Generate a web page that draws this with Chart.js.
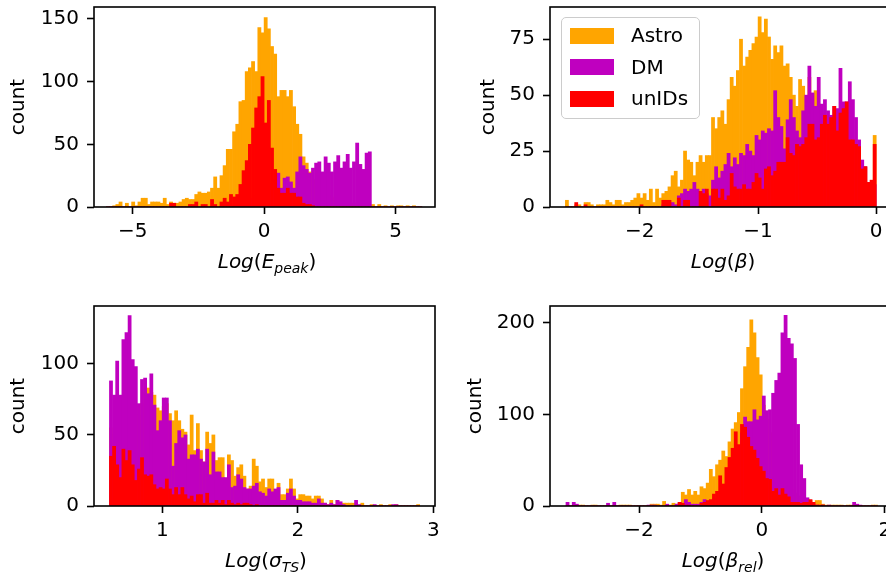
<!DOCTYPE html>
<html>
<head>
<meta charset="utf-8">
<script src="https://cdn.jsdelivr.net/npm/chart.js@4.4.1/dist/chart.umd.min.js"></script>
<style>
html, body { margin: 0; padding: 0; background: #fff; }
body { width: 886px; height: 579px; overflow: hidden; position: relative; font-family: "DejaVu Sans", sans-serif; color: #000; }
canvas { position: absolute; }
.lbl { position: absolute; font-size: 20px; line-height: 20px; white-space: nowrap; }
.ylab { width: 100px; height: 20px; text-align: center; transform: rotate(-90deg); }
.xlab { width: 300px; text-align: center; }
.xlab i { font-style: italic; }
.xlab sub { font-size: 70%; vertical-align: -0.35em; line-height: 0; font-style: italic; }
#legend { position: absolute; left: 561px; top: 17px; width: 139px; height: 102px; box-sizing: border-box;
  border: 1.6px solid #cccccc; border-radius: 5px; background: rgba(255,255,255,0.8); }
#legend .patch { position: absolute; left: 8px; width: 44px; height: 16px; }
#legend .txt { position: absolute; left: 69px; font-size: 20px; line-height: 20px; }
</style>
</head>
<body>
<canvas id="c-epeak" width="445" height="290" style="left:0px;top:0px"></canvas>
<canvas id="c-beta" width="445" height="290" style="left:456px;top:0px"></canvas>
<canvas id="c-sigma" width="445" height="290" style="left:0px;top:299px"></canvas>
<canvas id="c-betarel" width="445" height="290" style="left:456px;top:299px"></canvas>

<div class="lbl ylab" style="left:-33px;top:97px">count</div>
<div class="lbl ylab" style="left:437px;top:97px">count</div>
<div class="lbl ylab" style="left:-33px;top:396px">count</div>
<div class="lbl ylab" style="left:424px;top:396px">count</div>

<div class="lbl xlab" style="left:117px;top:251px"><i>Log</i>(<i>E</i><sub>peak</sub>)</div>
<div class="lbl xlab" style="left:573px;top:251px"><i>Log</i>(<i>β</i>)</div>
<div class="lbl xlab" style="left:116px;top:550px"><i>Log</i>(<i>σ</i><sub>TS</sub>)</div>
<div class="lbl xlab" style="left:573px;top:550px"><i>Log</i>(<i>β</i><sub>rel</sub>)</div>

<div id="legend">
  <div class="patch" style="top:10px;background:#ffa500"></div><div class="txt" style="top:7px">Astro</div>
  <div class="patch" style="top:41px;background:#bf00bf"></div><div class="txt" style="top:39px">DM</div>
  <div class="patch" style="top:73px;background:#ff0000"></div><div class="txt" style="top:70px">unIDs</div>
</div>

<script>
// series names and colours
const seriesNames = ['Astro', 'DM', 'unIDs'];
const seriesColors = ['#ffa500', '#bf00bf', '#ff0000'];

// Log(E_peak): 100 bins from -6 to 6
const epeakBinStart = -6;
const epeakBinWidth = 0.12;
const epeakAstro = [0,0,1,2,4,0,3,0,4,1, 4,7,7,2,4,4,4,3,7,2, 4,3,3,4,6,7,6,6,10,12, 11,11,12,15,24,15,25,33,46,46,
  60,66,84,85,108,111,116,108,143,139, 151,142,128,122,88,93,93,88,93,80, 66,58,40,35,28,22,18,15,13,11,
  9,8,7,6,5,4,4,3,3,2, 2,2,2,1,2,0,2,0,1,0, 1,0,1,1,0,1,0,1,0,0];
const epeakDM = [0,0,0,0,0,0,0,0,0,0, 0,0,0,0,0,0,0,0,0,0, 0,0,0,0,0,0,0,0,0,0, 0,0,0,0,0,0,0,0,0,0,
  1,1,2,3,4,5,7,9,11,13, 15,17,19,22,27,15,23,24,20,15, 28,40,33,30,27,31,35,36,28,40,
  35,28,36,41,31,36,42,31,36,51, 34,30,43,44,0,0,0,0,0,0, 0,0,0,0,0,0,0,0,0,0];
const epeakUnID = [0,0,0,0,0,0,0,0,0,0, 0,0,0,0,0,0,0,0,0,0, 3,3,0,0,0,0,2,2,4,0, 2,2,0,6,2,0,4,7,4,10,
  8,10,18,29,37,50,63,79,88,104, 67,85,47,30,15,11,11,15,11,11, 8,8,3,2,2,1,0,0,0,0,
  0,0,0,0,0,0,0,0,0,0, 0,0,0,0,0,0,0,0,0,0, 0,0,0,0,0,0,0,0,0,0];
const epeakXTicks = [-5, 0, 5];
const epeakYTicks = [0, 50, 100, 150];

// Log(beta): 100 bins from -2.63 to 0
const betaBinStart = -2.63;
const betaBinWidth = 0.0263;
const betaAstro = [3,0,0,1,1,0,2,2,1,0, 1,1,1,3,2,1,3,3,1,2, 2,3,4,6,4,6,3,8,2,8, 4,6,7,9,14,16,9,12,25,21,
  20,14,20,23,20,23,23,40,35,40, 43,37,48,58,54,61,75,63,67,70, 73,76,85,78,84,76,66,72,69,72,
  63,64,58,50,45,57,54,48,58,48, 52,46,42,40,38,38,40,36,38,36, 40,30,28,28,26,18,18,10,10,32];
const betaDM = [0,0,0,0,0,0,0,0,0,0, 0,0,0,0,0,0,0,0,0,0, 0,0,0,0,0,0,0,0,0,0, 0,1,0,1,2,1,5,6,8,7,
  8,11,8,6,8,6,5,12,18,13, 16,19,24,18,22,19,24,23,28,25, 23,32,30,34,33,35,34,52,40,36,
  26,39,48,40,34,31,43,50,63,51, 45,58,46,48,43,41,45,44,62,47, 47,56,48,40,30,21,18,11,8,10];
const betaUnID = [0,0,0,2,0,0,1,0,0,0, 0,0,0,0,0,0,0,0,0,0, 0,0,0,0,1,0,0,0,0,0, 0,3,3,3,0,0,4,0,3,3,
  0,0,0,7,6,8,0,8,8,4, 8,3,5,15,9,8,8,10,8,8, 11,15,13,8,17,18,14,16,20,20,
  20,31,24,23,28,27,28,31,37,37, 30,31,37,41,37,40,45,34,42,44, 47,30,30,28,27,17,18,11,12,28];
const betaXTicks = [-2, -1, 0];
const betaYTicks = [0, 25, 50, 75];

// Log(sigma_TS): 100 bins from 0.61 to 2.9
const sigmaBinStart = 0.61;
const sigmaBinWidth = 0.0229;
const sigmaAstro = [55,50,60,52,62,68,72,68,70,64, 72,80,83,80,78,69,67,70,72,65, 60,67,60,54,52,43,64,39,58,39,
  31,52,44,50,32,34,34,19,36,32, 21,27,29,21,12,14,33,28,17,19, 13,19,19,6,16,8,8,12,19,12,
  5,8,8,7,7,5,7,7,5,2, 1,4,1,4,2,2,2,2,2,2, 0,2,0,0,1,0,0,1,0,0, 1,0,1,0,0,0,0,0,0,1];
const sigmaDM = [88,78,102,78,117,122,134,103,98,72, 89,90,79,93,71,53,60,76,76,60, 28,44,53,48,50,33,36,36,40,33,
  31,40,22,38,24,24,20,20,29,13, 14,22,19,13,12,12,14,16,10,9, 7,12,10,12,13,4,4,9,12,7,
  4,4,3,3,3,2,2,5,2,2, 1,2,1,4,3,1,0,0,0,4, 1,0,0,0,0,1,0,0,0,0, 0,1,1,0,0,0,0,0,0,0];
const sigmaUnID = [35,42,29,20,40,32,39,29,18,26, 34,22,21,22,15,12,13,12,19,12, 8,13,8,13,8,5,7,3,8,8,
  2,9,2,2,4,2,4,1,4,2, 1,2,1,2,2,1,0,1,0,0, 0,0,0,0,0,0,0,0,0,0,
  0,0,0,0,0,0,0,0,0,0, 0,0,0,0,0,0,0,0,0,0, 0,0,0,0,0,0,0,0,0,0, 0,0,0,0,0,0,0,0,0,0];
const sigmaXTicks = [1, 2, 3];
const sigmaYTicks = [0, 50, 100];

// Log(beta_rel): 100 bins from -3.19 to 1.88
const betaRelBinStart = -3.19;
const betaRelBinWidth = 0.0507;
const betaRelAstro = [0,0,0,0,1,1,0,0,1,1, 0,0,0,0,0,0,0,1,1,1, 1,0,0,0,0,0,0,2,2,2, 1,5,1,1,3,2,3,15,12,18,
  12,16,12,21,19,25,40,32,45,50, 60,54,70,84,91,102,128,152,173,203, 189,162,143,110,95,80,70,60,45,35,
  28,22,18,14,11,9,8,8,6,3, 6,6,2,1,1,1,1,1,1,0, 1,1,0,0,0,0,0,0,1,1];
const betaRelDM = [4,0,4,2,0,0,0,0,0,0, 0,0,0,3,0,4,0,0,0,0, 0,0,0,0,0,0,1,1,1,0, 0,0,2,0,0,2,4,3,7,4,
  2,2,2,4,7,5,6,8,8,10, 12,15,20,30,40,60,80,97,92,92, 105,94,98,120,104,105,123,137,145,189,
  208,183,177,161,89,45,30,9,3,1, 1,0,1,0,1,0,0,0,0,0, 0,0,4,2,1,0,0,0,0,0];
const betaRelUnID = [0,0,0,0,0,0,0,0,0,0, 0,0,0,0,0,0,0,0,0,0, 0,0,0,0,0,0,0,0,0,0, 0,0,0,0,0,0,4,3,1,1,
  0,0,0,3,4,6,7,13,16,33, 24,42,53,63,81,67,89,86,75,65, 61,52,43,38,30,29,16,19,12,19,
  13,10,4,4,4,3,4,4,7,4, 1,1,1,0,0,0,0,0,0,0, 0,0,0,0,0,0,0,0,0,0];
const betaRelXTicks = [-2, 0, 2];
const betaRelYTicks = [0, 100, 200];

Chart.defaults.font.family = '"DejaVu Sans", sans-serif';
Chart.defaults.font.size = 20;
Chart.defaults.color = '#000';

// draws the box round the plot area, like the matplotlib spines
const frame = {
  id: 'frame',
  afterDatasetsDraw(chart) {
    const { ctx, chartArea: a } = chart;
    ctx.save();
    ctx.strokeStyle = '#000';
    ctx.lineWidth = 1.6;
    ctx.strokeRect(a.left, a.top, a.right - a.left, a.bottom - a.top);
    ctx.restore();
  }
};

function minusSign(v) {
  return String(v).replace('-', '\u2212');
}

// no extra room for labels sticking out past the plot edges
function noPadding(s) {
  s.paddingTop = 0;
  s.paddingBottom = 0;
  s.paddingLeft = 0;
  s.paddingRight = 0;
}

function histChart(id, binStart, binWidth, series, xMin, xMax, yMax, xTicks, yTicks) {
  const datasets = series.map((counts, k) => ({
    label: seriesNames[k],
    data: counts.map((c, i) => ({ x: binStart + binWidth * (i + 0.5), y: c })),
    backgroundColor: seriesColors[k],
    borderWidth: 0,
    grouped: false,
    barPercentage: 1,
    categoryPercentage: 1,
    order: 3 - k
  }));
  const axisGrid = { display: true, drawOnChartArea: false, drawTicks: true, tickLength: 7, tickWidth: 1.6, tickColor: '#000', offset: false };
  return new Chart(document.getElementById(id), {
    type: 'bar',
    data: { datasets },
    plugins: [frame],
    options: {
      responsive: false,
      animation: false,
      events: [],
      devicePixelRatio: 1,
      layout: { padding: { left: 0, top: 7, right: 10, bottom: 0 } },
      plugins: { legend: { display: false }, tooltip: { enabled: false } },
      scales: {
        x: {
          type: 'linear',
          min: xMin, max: xMax,
          offset: false,
          grid: axisGrid,
          border: { display: false },
          afterBuildTicks: s => { s.ticks = xTicks.map(v => ({ value: v })); },
          afterFit: s => { s.height = 83; noPadding(s); },
          ticks: { autoSkip: false, maxRotation: 0, padding: 6, callback: minusSign }
        },
        y: {
          min: 0, max: yMax,
          grid: axisGrid,
          border: { display: false },
          afterBuildTicks: s => { s.ticks = yTicks.map(v => ({ value: v })); },
          afterFit: s => { s.width = 94; noPadding(s); },
          ticks: { autoSkip: false, padding: 8, callback: minusSign }
        }
      }
    }
  });
}

histChart('c-epeak', epeakBinStart, epeakBinWidth, [epeakAstro, epeakDM, epeakUnID], -6.47, 6.5, 159.5, epeakXTicks, epeakYTicks);
histChart('c-beta', betaBinStart, betaBinWidth, [betaAstro, betaDM, betaUnID], -2.76, 0.125, 89.4, betaXTicks, betaYTicks);
histChart('c-sigma', sigmaBinStart, sigmaBinWidth, [sigmaAstro, sigmaDM, sigmaUnID], 0.496, 3.013, 140.7, sigmaXTicks, sigmaYTicks);
histChart('c-betarel', betaRelBinStart, betaRelBinWidth, [betaRelAstro, betaRelDM, betaRelUnID], -3.45, 2.1, 218.2, betaRelXTicks, betaRelYTicks);
</script>
</body>
</html>
